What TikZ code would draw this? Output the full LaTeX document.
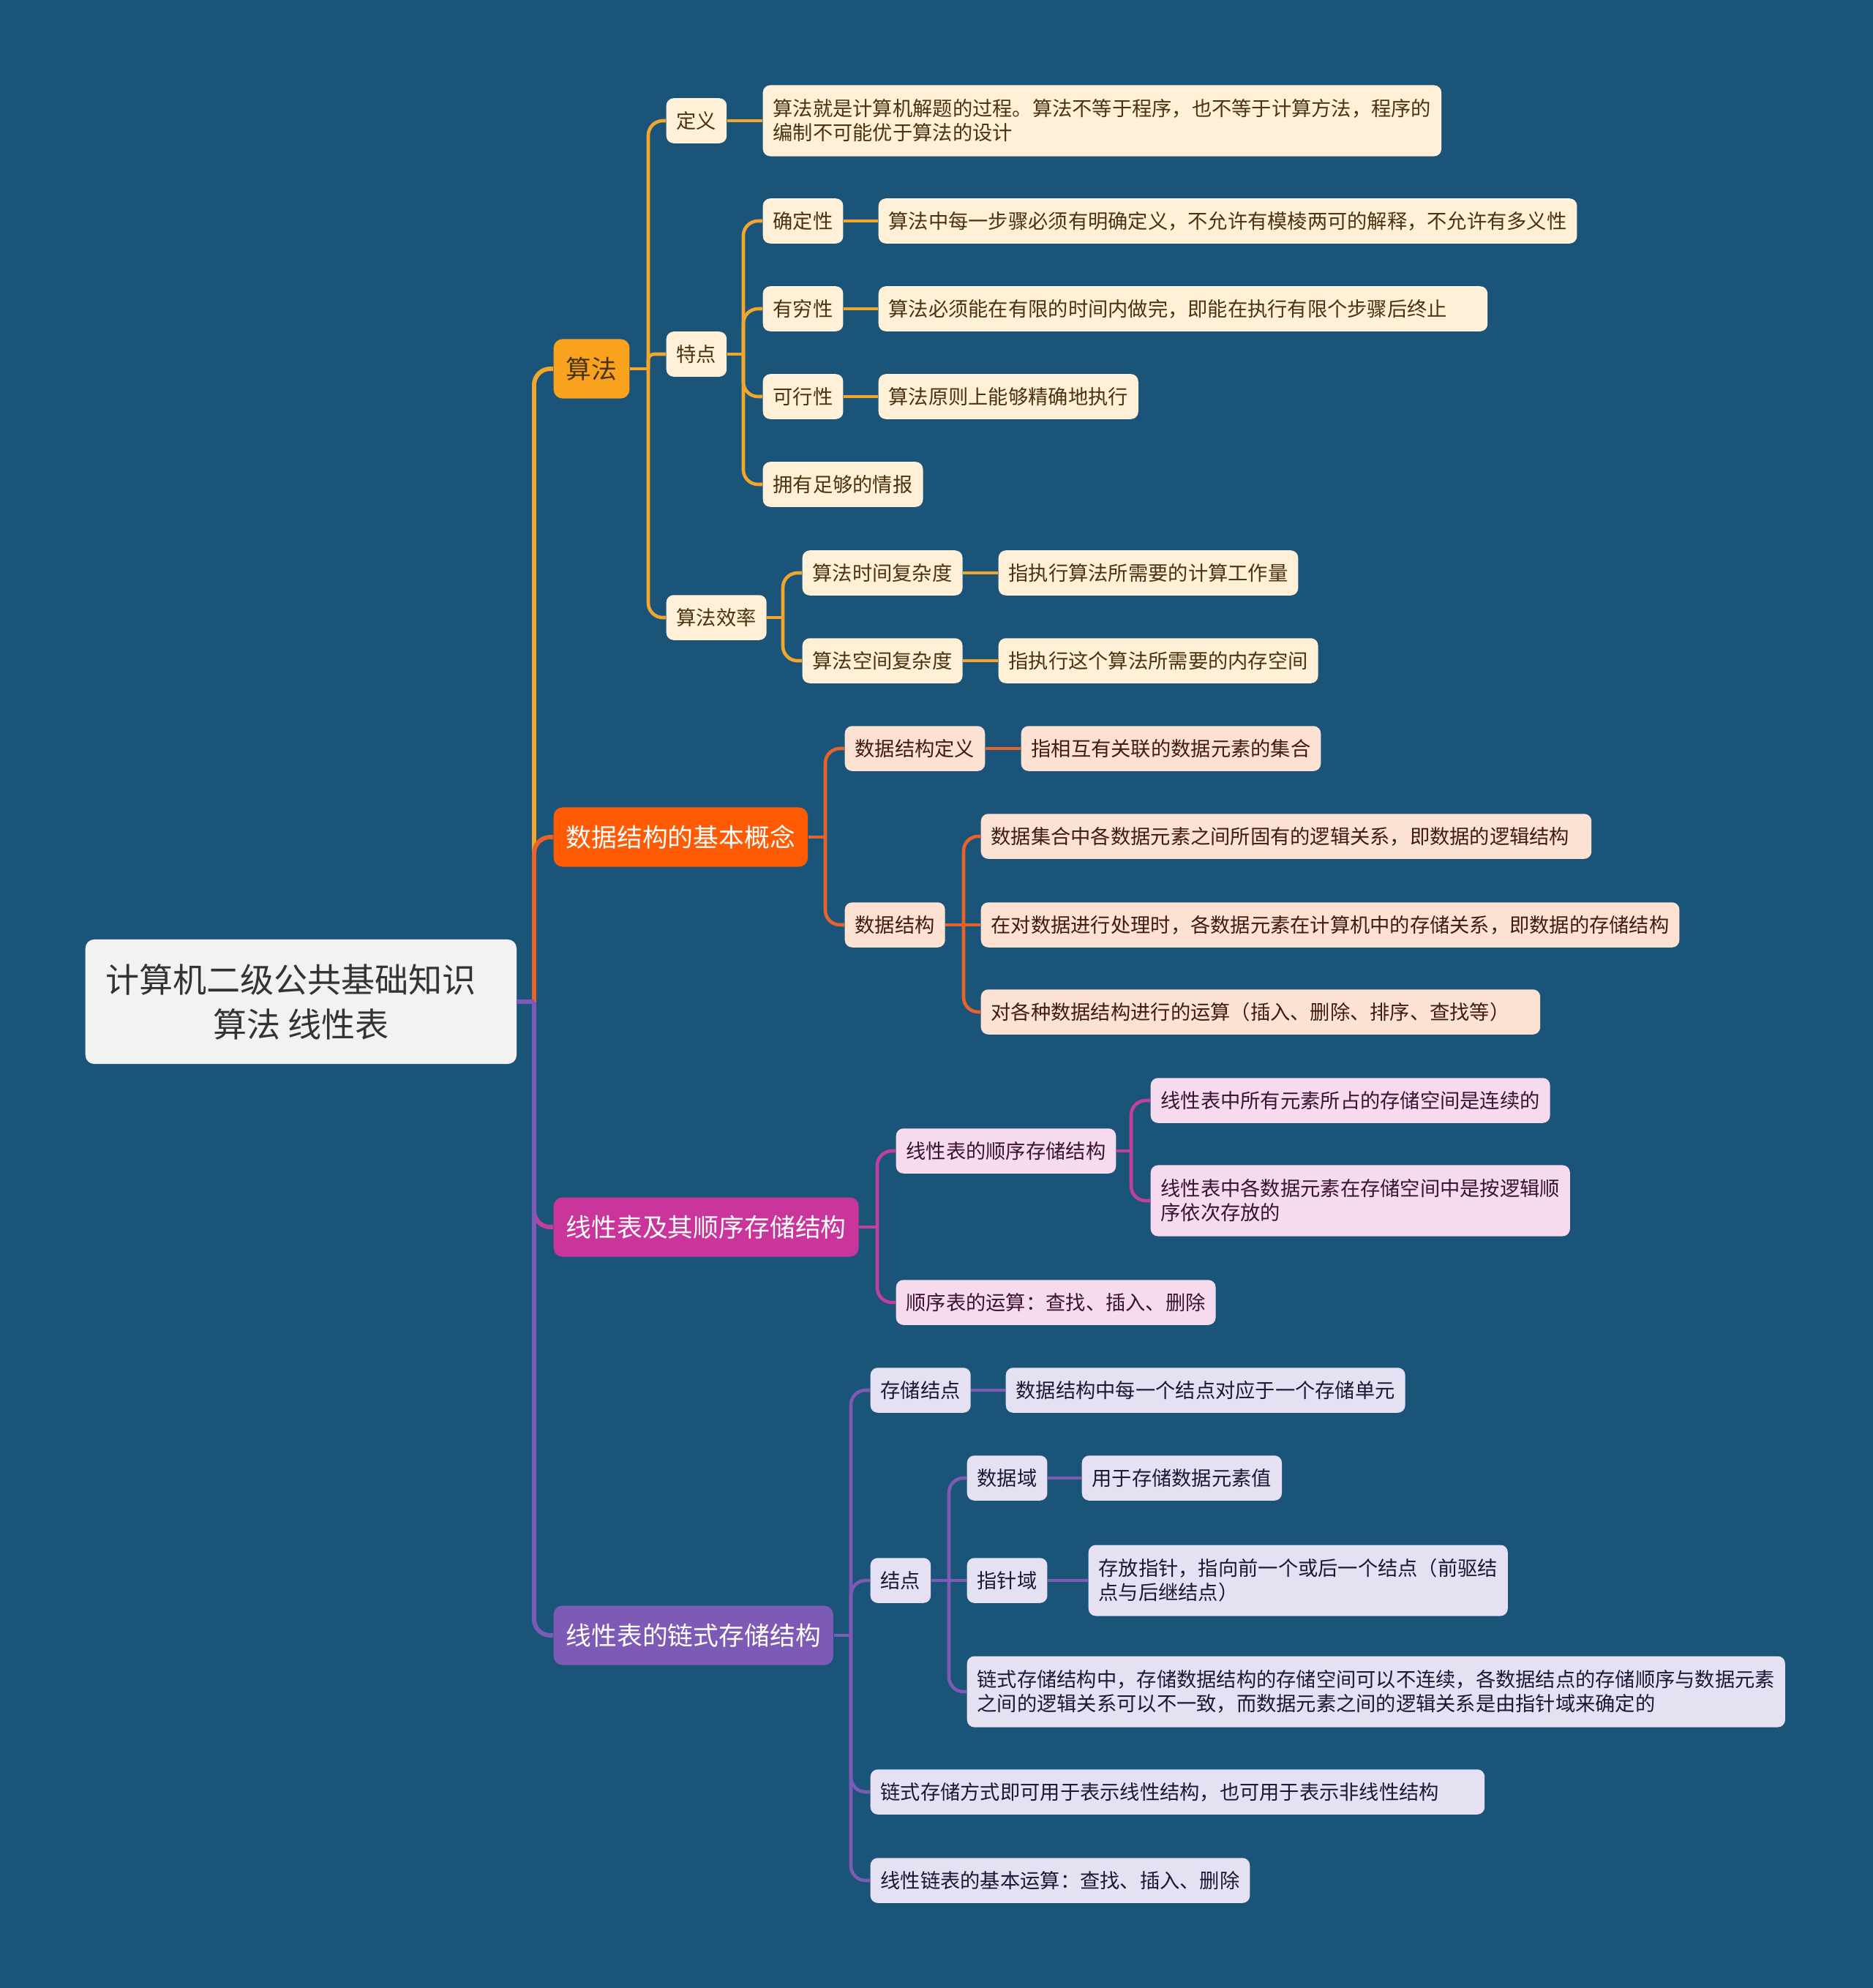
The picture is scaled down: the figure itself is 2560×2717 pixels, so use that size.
\documentclass[tikz,border=0pt]{standalone}
\usepackage{fontspec}
\setmainfont{Noto Sans CJK SC}
\definecolor{bg}{HTML}{1A5479}
\definecolor{rootf}{HTML}{F2F2F2}
\definecolor{roott}{HTML}{333333}
\definecolor{cA}{HTML}{F9A21E}
\definecolor{lA}{HTML}{F2A72C}
\definecolor{fA}{HTML}{FFF0D7}
\definecolor{tA}{HTML}{4A3310}
\definecolor{cB}{HTML}{FF5B05}
\definecolor{lB}{HTML}{E8622A}
\definecolor{fB}{HTML}{FDE2D3}
\definecolor{tB}{HTML}{3F1D10}
\definecolor{cC}{HTML}{C9359A}
\definecolor{lC}{HTML}{C2409C}
\definecolor{fC}{HTML}{F6DAED}
\definecolor{tC}{HTML}{3C1232}
\definecolor{cD}{HTML}{7D5AB5}
\definecolor{lD}{HTML}{7D5AB5}
\definecolor{fD}{HTML}{E6E1F2}
\definecolor{tD}{HTML}{1D1636}
\tikzset{
  rootbox/.style={anchor=west, fill=rootf, text=roott, rounded corners=0.12cm,
    minimum width=5.89cm, minimum height=1.70cm, align=center,
    font=\fontsize{13.1}{17.3}\selectfont},
  lone/.style={anchor=west, rounded corners=0.12cm, inner xsep=0.17cm,
    minimum height=0.81cm, font=\fontsize{9.9}{12}\selectfont, text=white},
  box/.style={anchor=west, rounded corners=0.1cm, inner xsep=0.14cm, inner ysep=0.08cm,
    minimum height=0.615cm, align=left, font=\fontsize{7.75}{9.4}\selectfont},
  tbox/.style={box, minimum height=0.97cm},
  bA/.style={fill=fA, text=tA},
  bB/.style={fill=fB, text=tB},
  bC/.style={fill=fC, text=tC},
  bD/.style={fill=fD, text=tD},
  tk/.style={line width=1.7pt, rounded corners=0.22cm},
  lk/.style={line width=1.3pt, rounded corners=0.2cm},
}
\begin{document}
\begin{tikzpicture}[x=0.01cm, y=-0.01cm]
\fill[bg] (0,0) rectangle (2560,2717);
\useasboundingbox (0,0) rectangle (2560,2717);

% root
\node[rootbox] (root) at (116,1369) {计算机二级公共基础知识\kern0.6em\\算法 线性表};

% level 1
\node[lone, fill=cA, text=tA] (A) at (756,504) {算法};
\node[lone, fill=cB] (B) at (756,1144) {数据结构的基本概念};
\node[lone, fill=cC] (C) at (756,1677) {线性表及其顺序存储结构};
\node[lone, fill=cD] (D) at (756,2235) {线性表的链式存储结构};

% branch A
\node[box,bA] (A1) at (910,165) {定义};
\node[box,bA] (A2) at (910,484) {特点};
\node[box,bA] (A3) at (910,844) {算法效率};
\node[tbox,bA] (A1a) at (1042,165) {算法就是计算机解题的过程。算法不等于程序，也不等于计算方法，程序的\\编制不可能优于算法的设计};
\node[box,bA] (A21) at (1042,302) {确定性};
\node[box,bA] (A22) at (1042,422) {有穷性};
\node[box,bA] (A23) at (1042,542) {可行性};
\node[box,bA] (A24) at (1042,662) {拥有足够的情报};
\node[box,bA] (A21a) at (1200,302) {算法中每一步骤必须有明确定义，不允许有模棱两可的解释，不允许有多义性};
\node[box,bA,text width=8.04cm] (A22a) at (1200,422) {算法必须能在有限的时间内做完，即能在执行有限个步骤后终止};
\node[box,bA] (A23a) at (1200,542) {算法原则上能够精确地执行};
\node[box,bA] (A31) at (1096,783) {算法时间复杂度};
\node[box,bA] (A32) at (1096,903) {算法空间复杂度};
\node[box,bA] (A31a) at (1364,783) {指执行算法所需要的计算工作量};
\node[box,bA] (A32a) at (1364,903) {指执行这个算法所需要的内存空间};

% branch B
\node[box,bB] (B1) at (1154,1023) {数据结构定义};
\node[box,bB] (B1a) at (1395,1023) {指相互有关联的数据元素的集合};
\node[box,bB] (B2) at (1154,1264) {数据结构};
\node[box,bB,text width=8.06cm] (B21) at (1340,1143) {数据集合中各数据元素之间所固有的逻辑关系，即数据的逻辑结构};
\node[box,bB] (B22) at (1340,1264) {在对数据进行处理时，各数据元素在计算机中的存储关系，即数据的存储结构};
\node[box,bB,text width=7.36cm] (B23) at (1340,1383) {对各种数据结构进行的运算（插入、删除、排序、查找等）};

% branch C
\node[box,bC] (C1) at (1224,1573) {线性表的顺序存储结构};
\node[box,bC] (C2) at (1224,1780) {顺序表的运算：查找、插入、删除};
\node[box,bC] (C11) at (1572,1504) {线性表中所有元素所占的存储空间是连续的};
\node[tbox,bC] (C12) at (1572,1641) {线性表中各数据元素在存储空间中是按逻辑顺\\序依次存放的};

% branch D
\node[box,bD] (D1) at (1189,1900) {存储结点};
\node[box,bD] (D1a) at (1374,1900) {数据结构中每一个结点对应于一个存储单元};
\node[box,bD] (D2) at (1189,2160) {结点};
\node[box,bD] (D21) at (1321,2020) {数据域};
\node[box,bD] (D21a) at (1478,2020) {用于存储数据元素值};
\node[box,bD] (D22) at (1321,2160) {指针域};
\node[tbox,bD] (D22a) at (1487,2160) {存放指针，指向前一个或后一个结点（前驱结\\点与后继结点）};
\node[tbox,bD] (D23) at (1321,2312) {链式存储结构中，存储数据结构的存储空间可以不连续，各数据结点的存储顺序与数据元素\\之间的逻辑关系可以不一致，而数据元素之间的逻辑关系是由指针域来确定的};
\node[box,bD,text width=8.11cm] (D3) at (1189,2449) {链式存储方式即可用于表示线性结构，也可用于表示非线性结构};
\node[box,bD] (D4) at (1189,2570) {线性链表的基本运算：查找、插入、删除};

% trunk coordinates
\coordinate (T0) at (730,1369);
\coordinate (TA) at (886,504);
\coordinate (TA2) at (1016,484);
\coordinate (TA3) at (1070,844);
\coordinate (TB) at (1128,1144);
\coordinate (TB2) at (1317,1264);
\coordinate (TC) at (1199,1677);
\coordinate (TC1) at (1546,1573);
\coordinate (TD) at (1163,2235);
\coordinate (TD2) at (1297,2160);

% level-1 connectors
\draw[tk,lA] (root.east) -- (T0);
\draw[tk,lA] (T0) |- (A.west);
\draw[tk,lB] (root.east) -- (T0);
\draw[tk,lB] (T0) |- (B.west);
\draw[tk,lC] (root.east) -- (T0);
\draw[tk,lC] (T0) |- (C.west);
\draw[tk,lD] (root.east) -- (T0);
\draw[tk,lD] (T0) |- (D.west);

% branch A connectors
\draw[lk,lA] (A.east) -- (TA);
\draw[lk,lA] (TA) |- (A1.west);
\draw[lA, line width=1.3pt, rounded corners=0.08cm] (TA) |- (A2.west);
\draw[lk,lA] (TA) |- (A3.west);
\draw[lk,lA] (A1.east) -- (A1a.west);
\draw[lk,lA] (A2.east) -- (TA2);
\draw[lk,lA] (TA2) |- (A21.west);
\draw[lk,lA] (TA2) |- (A22.west);
\draw[lk,lA] (TA2) |- (A23.west);
\draw[lk,lA] (TA2) |- (A24.west);
\draw[lk,lA] (A21.east) -- (A21a.west);
\draw[lk,lA] (A22.east) -- (A22a.west);
\draw[lk,lA] (A23.east) -- (A23a.west);
\draw[lk,lA] (A3.east) -- (TA3);
\draw[lk,lA] (TA3) |- (A31.west);
\draw[lk,lA] (TA3) |- (A32.west);
\draw[lk,lA] (A31.east) -- (A31a.west);
\draw[lk,lA] (A32.east) -- (A32a.west);

% branch B connectors
\draw[lk,lB] (B.east) -- (TB);
\draw[lk,lB] (TB) |- (B1.west);
\draw[lk,lB] (TB) |- (B2.west);
\draw[lk,lB] (B1.east) -- (B1a.west);
\draw[lk,lB] (B2.east) -- (TB2);
\draw[lk,lB] (TB2) |- (B21.west);
\draw[lk,lB] (TB2) -- (B22.west);
\draw[lk,lB] (TB2) |- (B23.west);

% branch C connectors
\draw[lk,lC] (C.east) -- (TC);
\draw[lk,lC] (TC) |- (C1.west);
\draw[lk,lC] (TC) |- (C2.west);
\draw[lk,lC] (C1.east) -- (TC1);
\draw[lk,lC] (TC1) |- (C11.west);
\draw[lk,lC] (TC1) |- (C12.west);

% branch D connectors
\draw[lk,lD] (D.east) -- (TD);
\draw[lk,lD] (TD) |- (D1.west);
\draw[lk,lD] (TD) |- (D2.west);
\draw[lk,lD] (TD) |- (D3.west);
\draw[lk,lD] (TD) |- (D4.west);
\draw[lk,lD] (D1.east) -- (D1a.west);
\draw[lk,lD] (D2.east) -- (TD2);
\draw[lk,lD] (TD2) |- (D21.west);
\draw[lk,lD] (TD2) -- (D22.west);
\draw[lk,lD] (TD2) |- (D23.west);
\draw[lk,lD] (D21.east) -- (D21a.west);
\draw[lk,lD] (D22.east) -- (D22a.west);
\end{tikzpicture}
\end{document}
